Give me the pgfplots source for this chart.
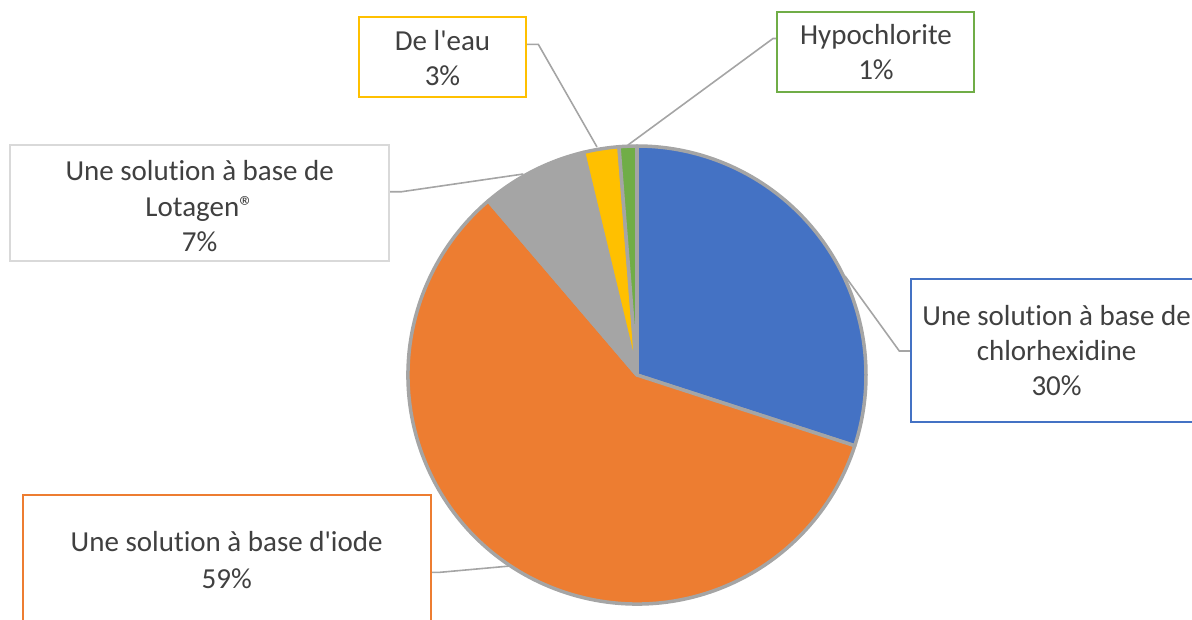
\documentclass[border=0pt]{standalone}
\usepackage{fontspec}
\setmainfont{Carlito}[Ligatures={NoCommon}]
\usepackage{pgfplots}
\usepackage{pgfplotstable}
\pgfplotsset{compat=1.18}
\definecolor{cBlue}{HTML}{4472C4}
\definecolor{cOrange}{HTML}{ED7D31}
\definecolor{cGray}{HTML}{A5A5A5}
\definecolor{cYellow}{HTML}{FFC000}
\definecolor{cGreen}{HTML}{70AD47}
\definecolor{cOutline}{HTML}{A5A5A5}
\definecolor{cLeader}{HTML}{A5A5A5}
\definecolor{cBoxGray}{HTML}{D9D9D9}
\definecolor{cText}{HTML}{404040}
\newcommand\lbl{\fontsize{29}{35}\selectfont}
\begin{document}
\begin{tikzpicture}
\pgfplotstableread{
label n
chlorhexidine 24
iode 47
lotagen 6
eau 2
hypochlorite 1
}\pietable
\pgfplotstablegetelem{0}{n}\of\pietable \let\nA\pgfplotsretval
\pgfplotstablegetelem{1}{n}\of\pietable \let\nB\pgfplotsretval
\pgfplotstablegetelem{2}{n}\of\pietable \let\nC\pgfplotsretval
\pgfplotstablegetelem{3}{n}\of\pietable \let\nD\pgfplotsretval
\pgfplotstablegetelem{4}{n}\of\pietable \let\nE\pgfplotsretval
\pgfmathsetmacro\tot{\nA+\nB+\nC+\nD+\nE}
\pgfmathsetmacro\aA{90}
\pgfmathsetmacro\aB{\aA-360*(\nA/\tot)}
\pgfmathsetmacro\aC{\aB-360*(\nB/\tot)}
\pgfmathsetmacro\aD{\aC-360*(\nC/\tot)}
\pgfmathsetmacro\aE{\aD-360*(\nD/\tot)}
\pgfmathsetmacro\aF{\aE-360*(\nE/\tot)}
\newcommand\slice[3]{\fill[#1, draw=cOutline, line width=3.5pt, line join=round] (axis cs:637,375) -- ++(#2:229pt) arc[start angle=#2, end angle=#3, radius=229pt] -- cycle;}
\begin{axis}[x=1pt, y=1pt, xmin=0, xmax=1192, ymin=0, ymax=619, y dir=reverse,
  hide axis, clip=true, anchor=south west, at={(0,0)}]
% leader lines
\draw[cLeader, line width=1.6pt] (axis cs:777,38.5) -- (axis cs:773,38.5) -- (axis cs:628,145);
\draw[cLeader, line width=1.6pt] (axis cs:526,44.3) -- (axis cs:538.3,44.3) -- (axis cs:597,147);
\draw[cLeader, line width=1.6pt] (axis cs:390,191.7) -- (axis cs:401.7,191.7) -- (axis cs:523.3,174);
\draw[cLeader, line width=1.6pt] (axis cs:910.7,351) -- (axis cs:899.3,351) -- (axis cs:845,276);
\draw[cLeader, line width=1.6pt] (axis cs:431,572.3) -- (axis cs:440,572.3) -- (axis cs:510,566);
% slices
\slice{cBlue}{\aA}{\aB}
\slice{cOrange}{\aB}{\aC}
\slice{cGray}{\aC}{\aD}
\slice{cYellow}{\aD}{\aE}
\slice{cGreen}{\aE}{\aF}
% boxes
\draw[cGreen, line width=2pt, fill=white] (axis cs:777.3,11.7) rectangle (axis cs:974,92.3);
\draw[cYellow, line width=2pt, fill=white] (axis cs:359.3,17.3) rectangle (axis cs:525.7,97.3);
\draw[cBoxGray, line width=2pt, fill=white] (axis cs:10,145) rectangle (axis cs:389.3,260.7);
\draw[cBlue, line width=2pt, fill=white] (axis cs:910.7,279.3) rectangle (axis cs:1204,421.7);
\draw[cOrange, line width=2pt, fill=white] (axis cs:22.7,495) rectangle (axis cs:430.7,626);
% texts
\node[anchor=base, font=\lbl, text=cText, inner sep=0pt] at (axis cs:876,44.3) {Hypochlorite};
\node[anchor=base, font=\lbl, text=cText, inner sep=0pt] at (axis cs:876,79) {1\%};
\node[anchor=base, font=\lbl, text=cText, inner sep=0pt] at (axis cs:442.5,50) {De l\textquotesingle eau};
\node[anchor=base, font=\lbl, text=cText, inner sep=0pt] at (axis cs:442.5,85) {3\%};
\node[anchor=base, font=\lbl, text=cText, inner sep=0pt] at (axis cs:199.7,180.7) {Une solution à base de};
\node[anchor=base, font=\lbl, text=cText, inner sep=0pt] at (axis cs:199.7,216) {Lotagen®};
\node[anchor=base, font=\lbl, text=cText, inner sep=0pt] at (axis cs:199.7,251.7) {7\%};
\node[anchor=base, font=\lbl, text=cText, inner sep=0pt] at (axis cs:1056.6,325) {Une solution à base de};
\node[anchor=base, font=\lbl, text=cText, inner sep=0pt] at (axis cs:1056.6,360) {chlorhexidine};
\node[anchor=base, font=\lbl, text=cText, inner sep=0pt] at (axis cs:1056.6,395) {30\%};
\node[anchor=base, font=\lbl, text=cText, inner sep=0pt] at (axis cs:226.7,551.7) {Une solution à base d\textquotesingle iode};
\node[anchor=base, font=\lbl, text=cText, inner sep=0pt] at (axis cs:226.7,588.3) {59\%};
\end{axis}
\pgfresetboundingbox
\path[use as bounding box] (0,0) rectangle (1192pt,619pt);
\end{tikzpicture}
\end{document}
